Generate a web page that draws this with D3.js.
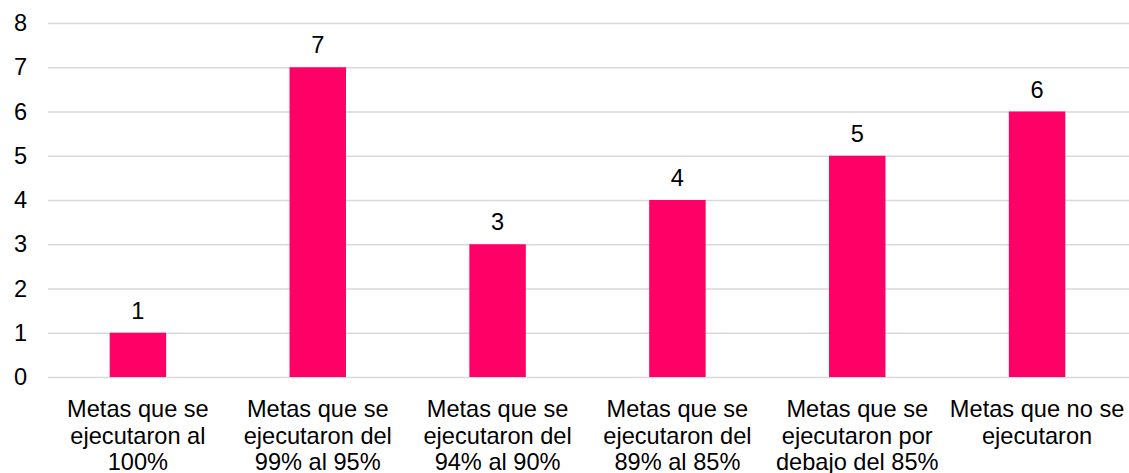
<!DOCTYPE html>
<html>
<head>
<meta charset="utf-8">
<script src="https://cdn.jsdelivr.net/npm/d3@7"></script>
<style>
  html, body { margin: 0; padding: 0; background: #fff; }
  svg { display: block; font-family: "Liberation Sans", Arial, sans-serif; }
</style>
</head>
<body>
<svg id="chart" width="1129" height="473"></svg>
<script>
// Category labels, one entry per bar, split into display lines
const categoryLines = [
  ["Metas que se", "ejecutaron al", "100%"],
  ["Metas que se", "ejecutaron del", "99% al 95%"],
  ["Metas que se", "ejecutaron del", "94% al 90%"],
  ["Metas que se", "ejecutaron del", "89% al 85%"],
  ["Metas que se", "ejecutaron por", "debajo del 85%"],
  ["Metas que no se", "ejecutaron"]
];
const categories = categoryLines.map(l => l.join(" "));
const values = [1, 7, 3, 4, 5, 6];
const yTicks = [0, 1, 2, 3, 4, 5, 6, 7, 8];

const svg = d3.select("#chart");
const plot = { left: 48, right: 1127, top: 23, bottom: 377 };
const fontSize = 23.6;
const barColor = "#FF0066";
const gridColor = "#D9D9D9";

const x = d3.scaleBand()
  .domain(categories)
  .range([plot.left, plot.right])
  .paddingInner(0.686)
  .paddingOuter(0.343);

const y = d3.scaleLinear()
  .domain([0, 8])
  .range([plot.bottom, plot.top]);

// Horizontal gridlines with value labels on the left
const yAxis = d3.axisLeft(y)
  .tickValues(yTicks)
  .tickSize(-(1129 - plot.left))
  .tickPadding(21)
  .tickFormat(d3.format("d"));

const gy = svg.append("g")
  .attr("transform", `translate(${plot.left},0)`)
  .call(yAxis);
gy.select(".domain").remove();
gy.selectAll(".tick line")
  .attr("stroke", gridColor)
  .attr("stroke-width", 1.3);
gy.selectAll(".tick text")
  .attr("fill", "#000")
  .attr("font-size", fontSize)
  .attr("font-family", "Liberation Sans, Arial, sans-serif");

// Bars
svg.append("g")
  .selectAll("rect")
  .data(values)
  .join("rect")
  .attr("x", (d, i) => x(categories[i]))
  .attr("width", x.bandwidth())
  .attr("y", d => y(d))
  .attr("height", d => y(0) - y(d))
  .attr("fill", barColor);

// Value labels above each bar
svg.append("g")
  .selectAll("text")
  .data(values)
  .join("text")
  .attr("x", (d, i) => x(categories[i]) + x.bandwidth() / 2)
  .attr("y", d => y(d) - 14)
  .attr("text-anchor", "middle")
  .attr("font-size", fontSize)
  .attr("fill", "#000")
  .text(d => d);

// Category labels under the axis
const lineGap = 26.5;
const firstBaseline = 417;
const cat = svg.append("g")
  .selectAll("text")
  .data(categoryLines)
  .join("text")
  .attr("text-anchor", "middle")
  .attr("font-size", fontSize)
  .attr("fill", "#000")
  .attr("transform", (d, i) => `translate(${x(categories[i]) + x.bandwidth() / 2},0)`);
cat.selectAll("tspan")
  .data(d => d)
  .join("tspan")
  .attr("x", 0)
  .attr("y", (d, j) => firstBaseline + j * lineGap)
  .text(d => d);
</script>
</body>
</html>
